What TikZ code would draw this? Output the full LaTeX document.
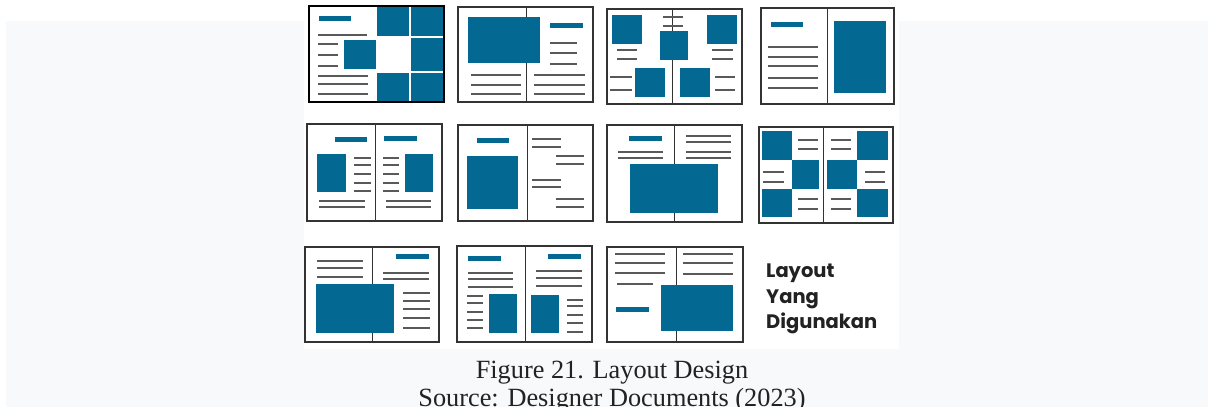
\documentclass[tikz,border=0pt]{standalone}
\usepackage{fontspec}
\setmainfont{Liberation Serif}
\newfontfamily\poppins{Poppins}
\usepackage{tikz}
\definecolor{primary}{HTML}{036892}
\definecolor{pagebg}{HTML}{F8F9FA}
\definecolor{ink}{HTML}{222222}

\begin{document}
\begin{tikzpicture}[x=1pt, y=-1pt,
    frame/.style={draw=black!80, line width=1.2pt},
    spine/.style={draw=black!80, line width=1pt},
    rule/.style={draw=black!65, line width=1.2pt},
    block/.style={fill=primary},
    caption/.style={anchor=base, text=ink, font=\fontsize{26.3}{30}\selectfont, inner sep=0pt}]
        \useasboundingbox (0,0) rectangle (1208,407);
        % fondo de pagina y panel blanco
        \fill[white] (0,0) rectangle (1208,407);
        \fill[pagebg] (6,21) rectangle (1208,407);
        \fill[white] (304,0) rectangle (899,349);

        % Fila 1 - layout A
        \fill[block] (377,6) rectangle (409,36);
        \fill[block] (411,6) rectangle (444,36);
        \fill[block] (411,38) rectangle (444,71);
        \fill[block] (344,40) rectangle (376,69);
        \fill[block] (377,73) rectangle (409,102);
        \fill[block] (411,73) rectangle (444,102);
        \fill[block] (319,16) rectangle (351,21);
        \draw[rule] (318,35) -- (367,35);
        \foreach \y in {44,55,66} \draw[rule] (318,\y) -- (338,\y);
        \foreach \y in {76,84,94} \draw[rule] (318,\y) -- (368,\y);
        \draw[black, line width=2pt] (309,6) rectangle (444,102);

        % Fila 1 - layout B
        \draw[frame] (458,7) rectangle (593,102);
        \draw[spine] (526,7) -- (526,102);
        \fill[block] (468,17) rectangle (540,63);
        \fill[block] (550,23) rectangle (583,28);
        \foreach \y in {43,53,64} \draw[rule] (550,\y) -- (577,\y);
        \foreach \y in {75,85,94} {
            \draw[rule] (471,\y) -- (521,\y);
            \draw[rule] (534,\y) -- (585,\y);
        }

        % Fila 1 - layout C
        \draw[frame] (607,9) rectangle (742,104);
        \draw[spine] (672,9) -- (672,104);
        \foreach \y in {17,26} \draw[rule] (663,\y) -- (683,\y);
        \fill[block] (612,15) rectangle (642,44);
        \fill[block] (707,15) rectangle (737,44);
        \fill[block] (660,31) rectangle (688,60);
        \fill[block] (635,68) rectangle (665,97);
        \fill[block] (680,68) rectangle (710,97);
        \foreach \y in {50,59} {
            \draw[rule] (617,\y) -- (637,\y);
            \draw[rule] (712,\y) -- (733,\y);
        }
        \foreach \y in {77,90} {
            \draw[rule] (610,\y) -- (632,\y);
            \draw[rule] (715,\y) -- (735,\y);
        }

        % Fila 1 - layout D
        \draw[frame] (761,8) rectangle (894,104);
        \draw[spine] (827,8) -- (827,104);
        \fill[block] (771,22) rectangle (803,27);
        \foreach \y in {47,57,66,78,88} \draw[rule] (768,\y) -- (818,\y);
        \fill[block] (834,21) rectangle (886,93);

        % Fila 2 - layout E
        \draw[frame] (307,124) rectangle (442,221);
        \draw[spine] (375,124) -- (375,221);
        \fill[block] (335,137) rectangle (367,142);
        \fill[block] (384,136) rectangle (417,141);
        \fill[block] (317,154) rectangle (346,192);
        \fill[block] (405,154) rectangle (433,192);
        \foreach \y in {158,165,174,183,191} {
            \draw[rule] (354,\y) -- (371,\y);
            \draw[rule] (383,\y) -- (399,\y);
        }
        \foreach \y in {201,207} {
            \draw[rule] (319,\y) -- (365,\y);
            \draw[rule] (386,\y) -- (431,\y);
        }

        % Fila 2 - layout F
        \draw[frame] (458,125) rectangle (593,221);
        \draw[spine] (527,125) -- (527,221);
        \fill[block] (477,138) rectangle (509,143);
        \fill[block] (467,156) rectangle (518,209);
        \foreach \y in {139,147,180,187} \draw[rule] (532,\y) -- (561,\y);
        \foreach \y in {156,164,199,207} \draw[rule] (556,\y) -- (584,\y);

        % Fila 2 - layout G
        \draw[frame] (607,125) rectangle (742,222);
        \draw[spine] (674,125) -- (674,222);
        \fill[block] (629,136) rectangle (662,141);
        \foreach \y in {152,158} \draw[rule] (618,\y) -- (663,\y);
        \foreach \y in {136,142,152,158} \draw[rule] (686,\y) -- (731,\y);
        \fill[block] (630,164) rectangle (718,213);

        % Fila 2 - layout H (tablero)
        \draw[frame] (759,127) rectangle (893,223);
        \draw[spine] (823,127) -- (823,223);
        \fill[block] (762,131) rectangle (792,160);
        \fill[block] (857,131) rectangle (888,160);
        \fill[block] (792,160) rectangle (819,189);
        \fill[block] (827,160) rectangle (857,189);
        \fill[block] (762,189) rectangle (792,217);
        \fill[block] (857,189) rectangle (888,217);
        \foreach \y in {140,149,199,209} {
            \draw[rule] (798,\y) -- (818,\y);
            \draw[rule] (831,\y) -- (851,\y);
        }
        \foreach \y in {172,182} {
            \draw[rule] (763,\y) -- (784,\y);
            \draw[rule] (865,\y) -- (885,\y);
        }

        % Fila 3 - layout I
        \draw[frame] (305,247) rectangle (439,342);
        \draw[spine] (372,247) -- (372,342);
        \foreach \y in {261,268,277} \draw[rule] (317,\y) -- (363,\y);
        \fill[block] (396,254) rectangle (429,259);
        \foreach \y in {273,279} \draw[rule] (383,\y) -- (429,\y);
        \fill[block] (316,284) rectangle (394,333);
        \foreach \y in {293,301,309,318,328} \draw[rule] (403,\y) -- (430,\y);

        % Fila 3 - layout J
        \draw[frame] (457,246) rectangle (592,342);
        \draw[spine] (525,246) -- (525,342);
        \fill[block] (468,256) rectangle (501,261);
        \fill[block] (548,254) rectangle (581,259);
        \foreach \y in {273,279,287} \draw[rule] (468,\y) -- (513,\y);
        \foreach \y in {271,278,286} \draw[rule] (536,\y) -- (582,\y);
        \fill[block] (489,294) rectangle (517,333);
        \fill[block] (531,295) rectangle (559,333);
        \foreach \y in {296,303,312,320,328} \draw[rule] (467,\y) -- (483,\y);
        \foreach \y in {300,306,315,323,332} \draw[rule] (567,\y) -- (583,\y);

        % Fila 3 - layout K
        \draw[frame] (607,247) rectangle (743,342);
        \draw[spine] (676,247) -- (676,342);
        \foreach \y in {254,263,273} \draw[rule] (615,\y) -- (665,\y);
        \draw[rule] (617,284) -- (653,284);
        \foreach \y in {254,263,274} \draw[rule] (683,\y) -- (733,\y);
        \fill[block] (616,307) rectangle (649,312);
        \fill[block] (661,285) rectangle (733,331);

        % Titulo del panel
        \node[anchor=base west, inner sep=0pt, text=ink, font=\poppins\bfseries\fontsize{19.5}{22}\selectfont] (t1) at (766,277) {Layout};
        \node[anchor=base west, inner sep=0pt, text=ink, font=\poppins\bfseries\fontsize{19.5}{22}\selectfont] (t2) at (766,303) {Yang};
        \node[anchor=base west, inner sep=0pt, text=ink, font=\poppins\bfseries\fontsize{19.5}{22}\selectfont] (t3) at (766,328) {Digunakan};

        % Leyenda
        \node[caption] (cap) at (612,378) {Figure 21. Layout Design};
        \node[caption] (src) at (612,406) {Source: Designer Documents (2023)};
\end{tikzpicture}
\end{document}
